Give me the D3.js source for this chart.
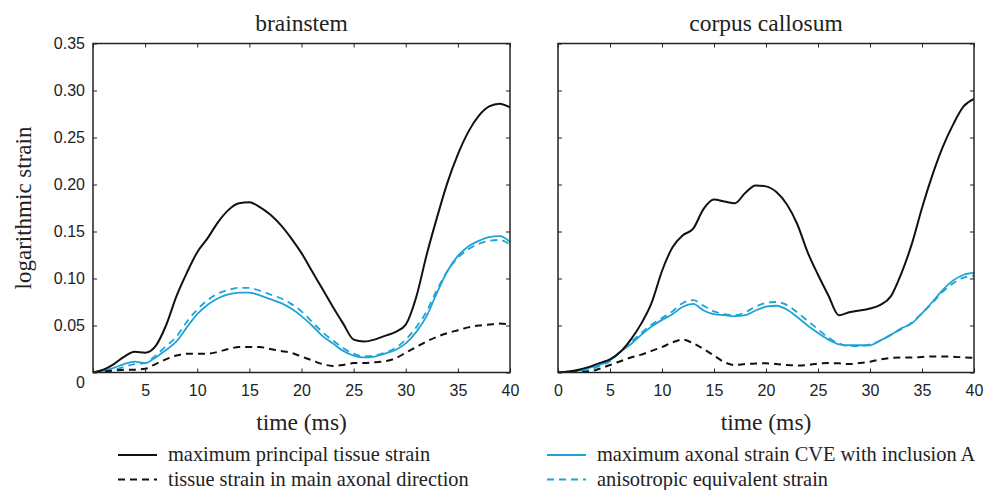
<!DOCTYPE html>
<html>
<head>
<meta charset="utf-8">
<script src="https://cdn.jsdelivr.net/npm/d3@7"></script>
<style>
  body { margin: 0; background: #fff; }
  svg { display: block; }
  .tick-lab { font-family: "Liberation Sans", Arial, sans-serif; font-size: 16px; fill: #222; }
  .serif { font-family: "Liberation Serif", "Times New Roman", serif; fill: #222; }
</style>
</head>
<body>
<div id="chart"></div>
<script>
// time grid (ms), shared by all series
const time = d3.range(0, 41);

// brainstem
const bsPrincipal = [0, 0.003, 0.009, 0.017, 0.022, 0.021, 0.028, 0.050, 0.081, 0.106, 0.128, 0.143, 0.160, 0.173, 0.180, 0.181, 0.176, 0.168, 0.157, 0.143, 0.127, 0.108, 0.089, 0.070, 0.052, 0.035, 0.033, 0.035, 0.039, 0.043, 0.051, 0.080, 0.125, 0.165, 0.202, 0.232, 0.256, 0.273, 0.283, 0.286, 0.282];
const bsAxonalDir = [0, 0.001, 0.002, 0.003, 0.003, 0.004, 0.009, 0.014, 0.018, 0.020, 0.020, 0.020, 0.022, 0.025, 0.027, 0.027, 0.027, 0.025, 0.023, 0.021, 0.017, 0.013, 0.009, 0.007, 0.008, 0.010, 0.010, 0.011, 0.012, 0.015, 0.021, 0.027, 0.033, 0.038, 0.042, 0.045, 0.048, 0.050, 0.051, 0.052, 0.051];
const bsCVE = [0, 0.002, 0.005, 0.009, 0.0115, 0.010, 0.016, 0.024, 0.033, 0.048, 0.062, 0.072, 0.079, 0.083, 0.085, 0.085, 0.082, 0.078, 0.074, 0.068, 0.060, 0.050, 0.039, 0.031, 0.023, 0.018, 0.016, 0.017, 0.020, 0.024, 0.031, 0.043, 0.060, 0.085, 0.108, 0.124, 0.134, 0.140, 0.144, 0.145, 0.139];
const bsAniso = [0, 0.001, 0.003, 0.006, 0.009, 0.010, 0.018, 0.028, 0.038, 0.054, 0.067, 0.077, 0.084, 0.088, 0.090, 0.090, 0.087, 0.083, 0.079, 0.073, 0.065, 0.054, 0.043, 0.034, 0.026, 0.020, 0.017, 0.018, 0.021, 0.026, 0.035, 0.048, 0.065, 0.088, 0.108, 0.122, 0.131, 0.137, 0.140, 0.141, 0.136];

// corpus callosum
const ccPrincipal = [0, 0.001, 0.003, 0.006, 0.010, 0.014, 0.022, 0.035, 0.052, 0.074, 0.108, 0.133, 0.146, 0.153, 0.174, 0.184, 0.182, 0.180, 0.191, 0.199, 0.198, 0.192, 0.179, 0.158, 0.128, 0.104, 0.082, 0.061, 0.064, 0.066, 0.068, 0.072, 0.081, 0.105, 0.136, 0.175, 0.210, 0.240, 0.264, 0.283, 0.291];
const ccAxonalDir = [0, 0, 0.0005, 0.001, 0.004, 0.008, 0.012, 0.016, 0.019, 0.023, 0.027, 0.032, 0.035, 0.031, 0.025, 0.018, 0.011, 0.008, 0.009, 0.0095, 0.0098, 0.009, 0.008, 0.0075, 0.008, 0.0095, 0.010, 0.0098, 0.009, 0.010, 0.0115, 0.014, 0.0155, 0.016, 0.016, 0.0165, 0.017, 0.017, 0.0168, 0.016, 0.0155];
const ccCVE = [0, 0.001, 0.002, 0.005, 0.008, 0.013, 0.022, 0.030, 0.040, 0.049, 0.056, 0.062, 0.070, 0.073, 0.066, 0.062, 0.061, 0.060, 0.061, 0.066, 0.070, 0.071, 0.067, 0.059, 0.050, 0.042, 0.035, 0.030, 0.029, 0.029, 0.029, 0.034, 0.040, 0.047, 0.052, 0.063, 0.075, 0.088, 0.098, 0.104, 0.106];
const ccAniso = [0, 0.0005, 0.001, 0.003, 0.007, 0.012, 0.022, 0.032, 0.042, 0.051, 0.058, 0.065, 0.074, 0.077, 0.071, 0.065, 0.062, 0.061, 0.064, 0.070, 0.074, 0.075, 0.072, 0.064, 0.055, 0.046, 0.037, 0.031, 0.028, 0.028, 0.030, 0.034, 0.040, 0.046, 0.053, 0.063, 0.074, 0.086, 0.095, 0.101, 0.103];

const yTicks = [0, 0.05, 0.10, 0.15, 0.20, 0.25, 0.30, 0.35];
const xTicks = [0, 5, 10, 15, 20, 25, 30, 35, 40];

const blue = "#1ea3d6";
const seriesStyle = [
  { name: "maximum principal tissue strain", color: "#111", dash: null, width: 2 },
  { name: "tissue strain in main axonal direction", color: "#111", dash: "7,5", width: 2 },
  { name: "maximum axonal strain CVE with inclusion A", color: blue, dash: null, width: 1.8 },
  { name: "anisotropic equivalent strain", color: blue, dash: "7,5", width: 1.8 }
];

const panels = [
  { title: "brainstem", left: 93, right: 510, series: [bsPrincipal, bsAxonalDir, bsCVE, bsAniso], yLabels: true, xZero: false },
  { title: "corpus callosum", left: 558, right: 974, series: [ccPrincipal, ccAxonalDir, ccCVE, ccAniso], yLabels: false, xZero: true }
];

const width = 985, height = 490;
const plotTop = 43.5, plotBottom = 372.5;

const svg = d3.select("#chart").append("svg")
  .attr("width", width)
  .attr("height", height);

const y = d3.scaleLinear().domain([0, 0.35]).range([plotBottom, plotTop]);

panels.forEach(p => {
  const x = d3.scaleLinear().domain([0, 40]).range([p.left, p.right]);
  const g = svg.append("g");

  const clipId = "clip-" + p.left;
  svg.append("clipPath").attr("id", clipId)
    .append("rect")
    .attr("x", p.left).attr("y", plotTop)
    .attr("width", p.right - p.left).attr("height", plotBottom - plotTop);

  const line = d3.line()
    .x((d, i) => x(time[i]))
    .y(d => y(d))
    .curve(d3.curveMonotoneX);

  // blue first so black sits on top
  [2, 3, 1, 0].forEach(k => {
    const s = seriesStyle[k];
    g.append("path")
      .datum(p.series[k])
      .attr("clip-path", `url(#${clipId})`)
      .attr("fill", "none")
      .attr("stroke", s.color)
      .attr("stroke-width", s.width)
      .attr("stroke-dasharray", s.dash)
      .attr("stroke-linejoin", "round")
      .attr("d", line);
  });

  // axes with inward ticks on all four sides
  const fmt = d => d === 0 ? "0" : d3.format(".2f")(d);
  g.append("g").attr("class", "yleft").attr("transform", `translate(${p.left},0)`)
    .call(d3.axisLeft(y).tickValues(yTicks).tickSize(-4).tickPadding(8).tickFormat(p.yLabels ? fmt : ""))
    .call(a => a.select(".domain").remove());
  g.append("g").attr("transform", `translate(${p.right},0)`)
    .call(d3.axisRight(y).tickValues(yTicks).tickSize(-4).tickFormat(""))
    .call(a => a.select(".domain").remove());
  g.append("g").attr("transform", `translate(0,${plotBottom})`)
    .call(d3.axisBottom(x).tickValues(xTicks).tickSize(-4).tickPadding(12)
      .tickFormat(d => (d === 0 && !p.xZero) ? "" : d))
    .call(a => a.select(".domain").remove());
  g.append("g").attr("transform", `translate(0,${plotTop})`)
    .call(d3.axisTop(x).tickValues(xTicks).tickSize(-4).tickFormat(""))
    .call(a => a.select(".domain").remove());

  g.selectAll("g").attr("font-size", null).attr("font-family", null);
  g.selectAll(".tick line").attr("stroke", "#222").attr("stroke-width", 1);
  g.selectAll(".tick text").attr("class", "tick-lab");
  // the zero label on the y axis sits a little below the axis line
  g.select(".yleft").selectAll(".tick text").filter(d => d === 0).attr("dy", "0.95em");

  g.append("rect")
    .attr("x", p.left).attr("y", plotTop)
    .attr("width", p.right - p.left).attr("height", plotBottom - plotTop)
    .attr("fill", "none").attr("stroke", "#222").attr("stroke-width", 1.5);

  g.append("text").attr("class", "serif")
    .attr("x", (p.left + p.right) / 2).attr("y", 31)
    .attr("text-anchor", "middle").attr("font-size", 23.5)
    .text(p.title);

  g.append("text").attr("class", "serif")
    .attr("x", (p.left + p.right) / 2).attr("y", 430)
    .attr("text-anchor", "middle").attr("font-size", 23.5)
    .text("time (ms)");
});

svg.append("text").attr("class", "serif")
  .attr("transform", "translate(31,208) rotate(-90)")
  .attr("text-anchor", "middle").attr("font-size", 23)
  .text("logarithmic strain");

// legend: two columns, two rows
const legendPos = [
  { x: 118, y: 455 }, { x: 118, y: 479.5 },
  { x: 547, y: 455 }, { x: 547, y: 479.5 }
];
seriesStyle.forEach((s, i) => {
  const lp = legendPos[i];
  svg.append("line")
    .attr("x1", lp.x).attr("x2", lp.x + 39)
    .attr("y1", lp.y).attr("y2", lp.y)
    .attr("stroke", s.color).attr("stroke-width", s.width)
    .attr("stroke-dasharray", s.dash);
  svg.append("text").attr("class", "serif")
    .attr("x", lp.x + 50).attr("y", lp.y + 6)
    .attr("font-size", 20.4)
    .text(s.name);
});
</script>
</body>
</html>
